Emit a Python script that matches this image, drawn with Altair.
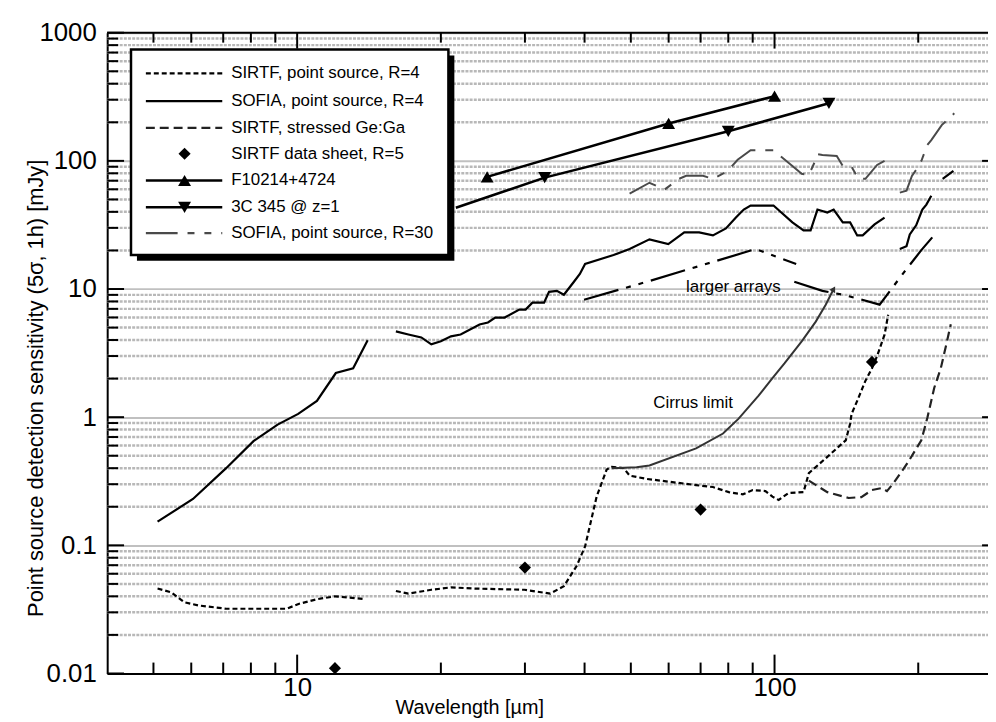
import altair as alt
import pandas as pd

# ---------------- data ----------------
# SIRTF, point source, R=4 (dotted) - two segments
sirtf_x = [
    [5.1, 5.45, 5.8, 6.2, 7.1, 8.2, 9.5, 10.1, 11.0, 12.0, 13.9],
    [16.1, 17.1, 19.1, 21.0, 23.5, 29.9, 33.9, 36.2, 38.5, 40.1, 41.0, 42.4, 44.5,
     45.6, 48.3, 49.7, 53.9, 68.5, 74.3, 80.2, 85.8, 90.0, 95.7, 99.0, 102, 107,
     115, 118, 129, 141, 144, 145, 149, 155, 160, 164, 170, 173],
]
sirtf_y = [
    [0.046, 0.043, 0.036, 0.034, 0.032, 0.032, 0.032, 0.035, 0.038, 0.040, 0.038],
    [0.044, 0.042, 0.045, 0.047, 0.046, 0.045, 0.042, 0.048, 0.069, 0.098, 0.14, 0.24, 0.39,
     0.41, 0.40, 0.35, 0.33, 0.295, 0.285, 0.26, 0.25, 0.27, 0.265, 0.24, 0.226, 0.256,
     0.26, 0.366, 0.49, 0.66, 0.89, 1.06, 1.34, 1.92, 2.41, 3.0, 4.4, 6.3],
]

# SOFIA, point source, R=4 (solid)
sofia4_x = [
    [5.1, 6.05, 7.1, 8.1, 9.1, 10.05, 11.0, 12.05, 13.1, 14.05],
    [16.1, 17.1, 18.2, 19.1, 20.0, 21.0, 22.0, 24.1, 25.1, 26.0, 27.2, 29.2, 30.1, 31.1,
     32.9, 33.7, 35.0, 36.2, 38.0, 39.1, 40.1, 46.0, 49.7, 54.7, 59.9, 64.7, 69.5, 74.3,
     79.1, 83.0, 86.2, 89.1, 99.5, 109, 115, 119, 123, 129, 133, 139, 144, 149, 153, 162, 170],
    [183, 189, 192, 198, 204, 208, 213],
    [225, 237],
]
sofia4_y = [
    [0.153, 0.23, 0.40, 0.65, 0.875, 1.06, 1.34, 2.21, 2.41, 3.98],
    [4.67, 4.42, 4.19, 3.70, 3.91, 4.27, 4.42, 5.29, 5.48, 5.99, 5.99, 6.91, 6.91, 7.82,
     7.82, 9.51, 9.68, 9.02, 11.4, 13.1, 15.7, 18.4, 20.5, 24.4, 22.4, 27.7, 27.7, 26.2,
     29.7, 36.1, 41.7, 44.8, 44.8, 33.1, 28.7, 28.7, 41.7, 39.5, 41.7, 33.1, 33.1, 26.2, 26.2, 31.9, 36.1],
    [20.5, 21.6, 26.7, 31.4, 41.7, 45.6, 53.5],
    [72.4, 83.5],
]

# SIRTF, stressed Ge:Ga (dashed)
stressed_x = [[118, 129, 143, 152, 160, 168, 172, 178, 190, 203, 209, 216, 223, 229, 234]]
stressed_y = [[0.32, 0.26, 0.234, 0.238, 0.27, 0.28, 0.265, 0.31, 0.44, 0.66, 0.99, 1.69, 2.41, 3.7, 5.3]]

# SIRTF data sheet, R=5 (diamonds)
sheet_x = [12, 30, 70, 160]
sheet_y = [0.011, 0.067, 0.19, 2.7]

# F10214+4724 (line with up triangles)
f10214_x = [25, 60, 100]
f10214_y = [75, 196, 320]

# 3C 345 @ z=1 (line with down triangles)
c345_line_x = [21.5, 33, 80, 130]
c345_line_y = [43, 74, 170, 281]
c345_mark_x = [33, 80, 130]
c345_mark_y = [74, 170, 281]

# SOFIA, point source, R=30 (grey long-short dashes)
sofia30_x = [
    [49.7, 54.7, 58.8, 63.1, 65.3, 70.8, 74.3, 79.8, 83.7, 89.1, 99.5, 109, 114, 118,
     122, 123, 126, 135, 139, 145, 150, 155, 164, 170],
    [183, 189, 194, 198, 203, 209, 213, 224, 238],
]
sofia30_y = [
    [55.5, 67.5, 59.6, 72.4, 76.4, 76.4, 72.4, 83.5, 102, 121, 121, 91.3, 79.2, 77.8,
     102, 113, 111, 109, 91.3, 89.7, 72.4, 72.4, 92.9, 99.8],
    [56.5, 58.5, 76.4, 85.1, 99.8, 133, 145, 190, 235],
]

# Cirrus limit (dark grey solid)
cirrus_x = [[45.6, 51.4, 54.7, 68.5, 78, 84.1, 92.6, 99, 105, 114, 122, 128, 133]]
cirrus_y = [[0.40, 0.407, 0.42, 0.57, 0.745, 0.974, 1.47, 2.02, 2.64, 3.91, 5.57, 7.55, 10.0]]
cirrus_tip_x = [133]
cirrus_tip_y = [10.0]

# larger arrays (dash-dot)
larger_x = [[39.9, 54.5, 91.3, 111], [110, 126, 139, 150, 166, 187, 203, 214]]
larger_y = [[8.25, 11.5, 20.5, 15.7], [11.4, 9.68, 9.02, 8.40, 7.55, 13.6, 20.1, 25.3]]

# annotations
ann_text = ["Cirrus limit", "larger arrays"]
ann_x = [67.5, 82]
ann_y = [1.29, 10.4]

legend_labels = [
    "SIRTF, point source, R=4",
    "SOFIA, point source, R=4",
    "SIRTF, stressed Ge:Ga",
    "SIRTF data sheet, R=5",
    "F10214+4724",
    "3C 345 @ z=1",
    "SOFIA, point source, R=30",
]

y_decades = [0.01, 0.1, 1, 10, 100, 1000]
x_major = [10, 100]
x_minor = [5, 6, 7, 8, 9, 20, 30, 40, 50, 60, 70, 80, 90, 200]
y_minor = [k * d for d in [0.01, 0.1, 1, 10, 100] for k in range(2, 10)]

# ---------------- chart ----------------
W, H = 888, 646
FONT = "Liberation Sans"

xs = alt.Scale(type="log", domain=[4, 280], nice=False)
ys = alt.Scale(type="log", domain=[0.01, 1000], nice=False)

xax = alt.Axis(values=x_major, format="~g", ticks=False, grid=False,
               domainColor="black", domainWidth=2,
               labelFontSize=26, labelColor="black", labelFont=FONT, labelPadding=1,
               labelFontWeight="normal",
               title="Wavelength [µm]", titleFontSize=20, titleFontWeight="normal",
               titleFont=FONT, titleColor="black", titleX=365, titleY=40,
               titleBaseline="alphabetic", titleAlign="center")
yax = alt.Axis(values=y_decades, format="~g", ticks=False, grid=True,
               gridColor="#c0c0c0", gridWidth=2,
               domainColor="black", domainWidth=2,
               labelFontSize=26, labelColor="black", labelFont=FONT, labelPadding=11,
               labelFontWeight="normal",
               title="Point source detection sensitivity (5σ, 1h) [mJy]",
               titleFontSize=22, titleFontWeight="normal", titleFont=FONT,
               titleColor="black", titleX=-72, titleY=358, titleBaseline="middle",
               titleAlign="center", titleAngle=270)

X = alt.X("x:Q", scale=xs, axis=xax)
Y = alt.Y("y:Q", scale=ys, axis=yax)


def frame(xl, yl):
    rows = []
    for i, (sx, sy) in enumerate(zip(xl, yl)):
        for a, b in zip(sx, sy):
            rows.append({"x": a, "y": b, "seg": i})
    return pd.DataFrame(rows)


def line(xl, yl, color, width, dash=None):
    kw = dict(color=color, strokeWidth=width, clip=True, strokeCap="butt")
    if dash:
        kw["strokeDash"] = dash
    return alt.Chart(frame(xl, yl)).mark_line(**kw).encode(x=X, y=Y, detail="seg:N")


one = pd.DataFrame({"a": [0]})
layers = []

# minor dotted grid lines
layers.append(
    alt.Chart(pd.DataFrame({"y": y_minor})).mark_rule(
        color="#b8b8b8", strokeWidth=2.5, strokeDash=[3, 1.2]
    ).encode(y=Y, x=alt.value(0), x2=alt.value(W))
)
# left ticks (inside)
layers.append(alt.Chart(pd.DataFrame({"y": y_minor})).mark_rule(color="black", strokeWidth=2)
              .encode(y=Y, x=alt.value(0), x2=alt.value(11)))
layers.append(alt.Chart(pd.DataFrame({"y": y_decades})).mark_rule(color="black", strokeWidth=2)
              .encode(y=Y, x=alt.value(0), x2=alt.value(17)))
# right ticks
layers.append(alt.Chart(pd.DataFrame({"y": [0.1, 1, 10, 100]})).mark_rule(color="black", strokeWidth=2)
              .encode(y=Y, x=alt.value(W - 6), x2=alt.value(W)))
# bottom / top ticks
layers.append(alt.Chart(pd.DataFrame({"x": x_minor})).mark_rule(color="black", strokeWidth=2)
              .encode(x=X, y=alt.value(H), y2=alt.value(H - 11)))
layers.append(alt.Chart(pd.DataFrame({"x": x_major})).mark_rule(color="black", strokeWidth=2)
              .encode(x=X, y=alt.value(H), y2=alt.value(H - 19)))
layers.append(alt.Chart(pd.DataFrame({"x": x_minor})).mark_rule(color="black", strokeWidth=2)
              .encode(x=X, y=alt.value(0), y2=alt.value(10)))
layers.append(alt.Chart(pd.DataFrame({"x": x_major})).mark_rule(color="black", strokeWidth=2)
              .encode(x=X, y=alt.value(0), y2=alt.value(16)))
# top border
layers.append(alt.Chart(one).mark_rule(color="black", strokeWidth=2)
              .encode(x=alt.value(0), x2=alt.value(W), y=alt.value(0)))

# data lines
SIRTF_DASH = [5, 3]
STRESSED_DASH = [9, 5]
R30_DASH = [30, 10, 8, 10]
LARGER_DASH = [36, 8, 5, 8, 5, 8]
layers.append(line(sirtf_x, sirtf_y, "black", 2.2, SIRTF_DASH))
layers.append(line(sofia4_x, sofia4_y, "black", 2.2))
layers.append(line(stressed_x, stressed_y, "#222222", 2.2, STRESSED_DASH))
layers.append(line(sofia30_x, sofia30_y, "#4a4a4a", 2, R30_DASH))
layers.append(line(cirrus_x, cirrus_y, "#333333", 2))
layers.append(line(larger_x, larger_y, "black", 2.2, LARGER_DASH))
layers.append(line([f10214_x], [f10214_y], "black", 2.6))
layers.append(line([c345_line_x], [c345_line_y], "black", 2.6))

# cirrus arrow tip
layers.append(alt.Chart(pd.DataFrame({"x": cirrus_tip_x, "y": cirrus_tip_y}))
              .mark_point(shape="triangle-up", filled=True, color="#333333", size=45, angle=30, opacity=1)
              .encode(x=X, y=Y))

# markers
layers.append(alt.Chart(pd.DataFrame({"x": sheet_x, "y": sheet_y}))
              .mark_point(shape="diamond", filled=True, color="black", size=150, opacity=1)
              .encode(x=X, y=Y))
layers.append(alt.Chart(pd.DataFrame({"x": f10214_x, "y": f10214_y}))
              .mark_point(shape="triangle-up", filled=True, color="black", size=170, opacity=1)
              .encode(x=X, y=Y))
layers.append(alt.Chart(pd.DataFrame({"x": c345_mark_x, "y": c345_mark_y}))
              .mark_point(shape="triangle-down", filled=True, color="black", size=170, opacity=1)
              .encode(x=X, y=Y))

# annotations
layers.append(alt.Chart(pd.DataFrame({"x": ann_x, "y": ann_y, "t": ann_text}))
              .mark_text(fontSize=17, font=FONT, color="black", align="center", baseline="middle")
              .encode(x=X, y=Y, text="t:N"))

# legend box with shadow
layers.append(alt.Chart(one).mark_rect(color="black")
              .encode(x=alt.value(30), x2=alt.value(350), y=alt.value(23), y2=alt.value(230)))
layers.append(alt.Chart(one).mark_rect(fill="white", stroke="black", strokeWidth=2.5)
              .encode(x=alt.value(24), x2=alt.value(344), y=alt.value(17), y2=alt.value(224)))

rows_y = [41, 69, 96, 122, 149, 176, 202]
styles = [
    dict(color="black", strokeWidth=2.2, strokeDash=SIRTF_DASH),
    dict(color="black", strokeWidth=2.2),
    dict(color="#222222", strokeWidth=2.2, strokeDash=STRESSED_DASH),
    None,
    dict(color="black", strokeWidth=2.6),
    dict(color="black", strokeWidth=2.6),
    dict(color="#4a4a4a", strokeWidth=2.2, strokeDash=[32, 10, 7, 10, 7, 10]),
]
symbols = [None, None, None, "diamond", "triangle-up", "triangle-down", None]
for ry, st, sym, lab in zip(rows_y, styles, symbols, legend_labels):
    if st is not None:
        layers.append(alt.Chart(one).mark_rule(**st)
                      .encode(x=alt.value(39), x2=alt.value(116), y=alt.value(ry)))
    if sym is not None:
        layers.append(alt.Chart(one).mark_point(shape=sym, filled=True, color="black",
                                                size=150 if sym == "diamond" else 170, opacity=1)
                      .encode(x=alt.value(78), y=alt.value(ry)))
    layers.append(alt.Chart(one).mark_text(text=lab, fontSize=17, font=FONT, color="black",
                                           align="left", baseline="middle")
                  .encode(x=alt.value(125), y=alt.value(ry)))

chart = (
    alt.layer(*layers)
    .properties(width=W, height=H, autosize=alt.AutoSizeParams(type="none"),
                padding={"left": 100, "top": 22, "right": 0, "bottom": 46},
                background="white")
    .configure_view(stroke=None)
    .configure(font=FONT)
)

chart.save("out.html", embed_options={"renderer": "svg", "actions": False})
